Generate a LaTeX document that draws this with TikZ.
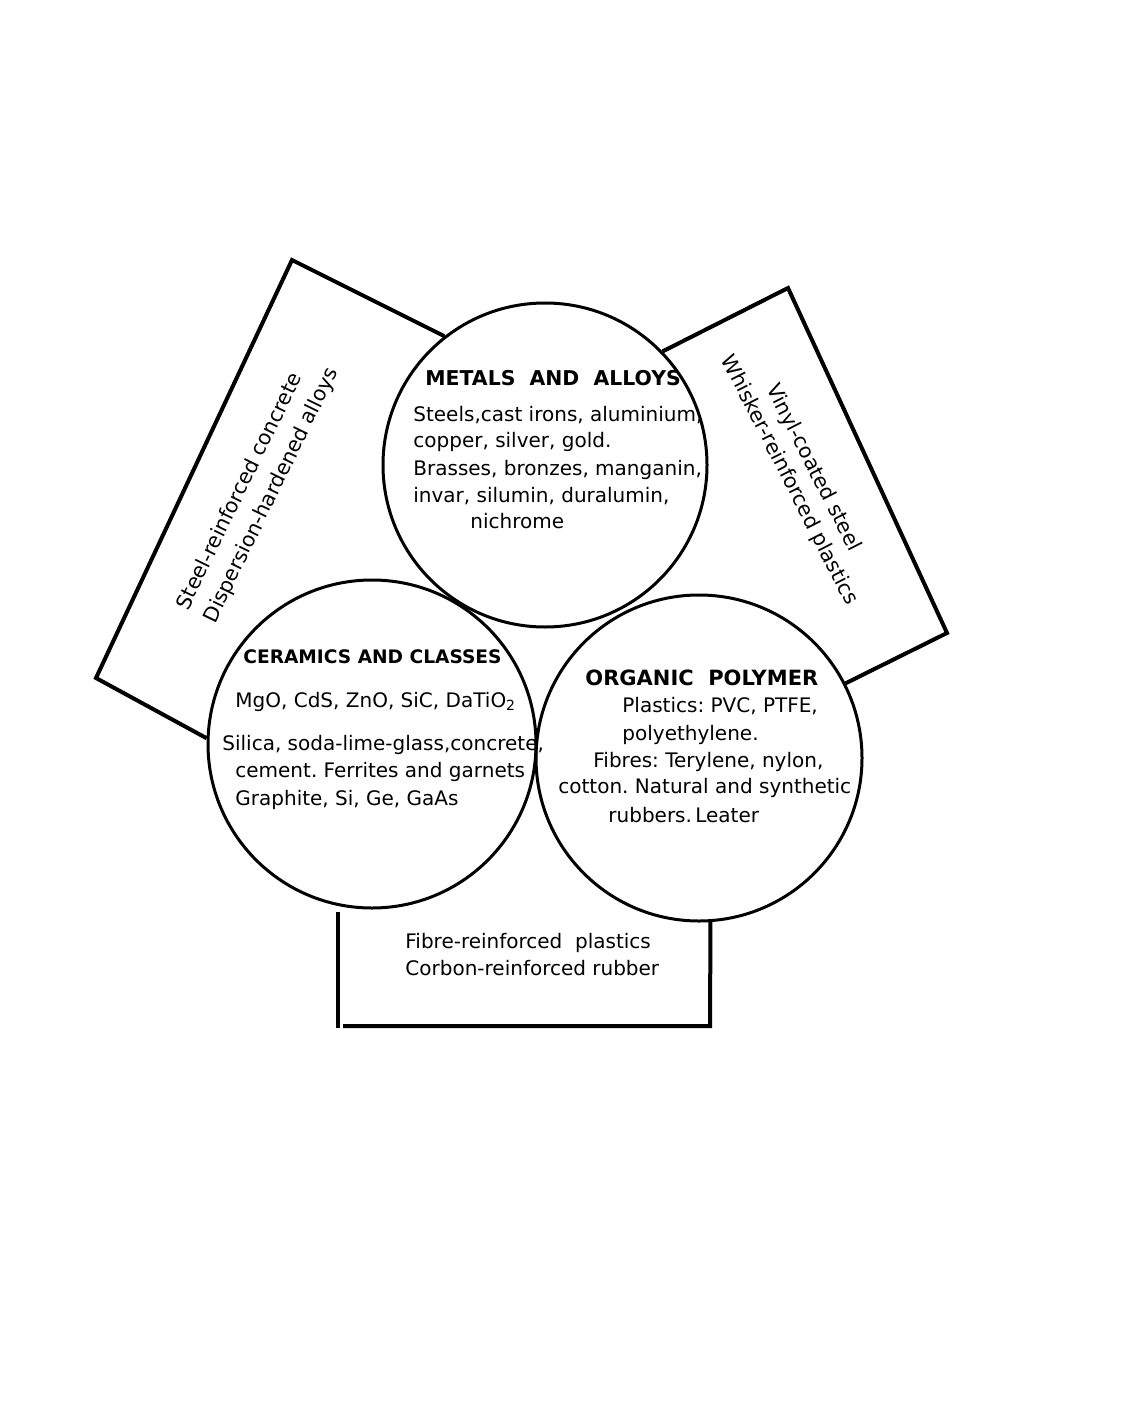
\documentclass[tikz,border=0pt]{standalone}
\usepackage{fontspec}
\setmainfont{DejaVu Sans}
\frenchspacing
\tikzset{
	ring/.style={circle,draw,line width=1.5pt,inner sep=0pt},
	frame/.style={line width=2pt},
	txt/.style={anchor=base west,inner sep=0pt,font=\fontsize{10}{13}\selectfont},
	head/.style={anchor=base west,inner sep=0pt,font=\fontsize{10.2}{13}\selectfont\bfseries}
}

\begin{document}
\begin{tikzpicture}[x=0.5pt,y=-0.5pt]
	\useasboundingbox (0,0) rectangle (1134,1417);
	
	\node[ring,minimum size=162pt] (metals) at (545,465) {};
	\node[ring,minimum size=164pt] (ceramics) at (372,744) {};
	\node[ring,minimum size=163pt] (polymer) at (699,758) {};
	
	\coordinate (lt) at (292,260);
	\coordinate (lb) at (96,678);
	\coordinate (rt) at (788,288);
	\coordinate (rb) at (947,633);
	\coordinate (bl) at (338,912);
	\coordinate (bll) at (338,1028);
	\coordinate (bb) at (343,1026);
	\coordinate (br) at (710,1026);
	
	\draw[frame] (metals.128) -- (lt) -- (lb) -- (ceramics.178);
	\draw[frame] (metals.44) -- (rt) -- (rb) -- (polymer.27);
	\draw[frame] (bl) -- (bll);
	\draw[frame] (bb) -- (br) -- (polymer.-86);
	
	% metals
	\node[head] (mh) at (425,385) {METALS~~AND~~ALLOYS};
	\node[txt] (m1) at (413,421) {Steels,cast irons, aluminium,};
	\node[txt] (m2) at (413,447) {copper, silver, gold.};
	\node[txt] (m3) at (413,475) {Brasses, bronzes, manganin,};
	\node[txt] (m4) at (413,502) {invar, silumin, duralumin,};
	\node[txt] (m5) at (470,528) {nichrome};
	
	% ceramics
	\node[head,font=\fontsize{9.3}{12}\selectfont\bfseries] (ch) at (243,663) {CERAMICS AND CLASSES};
	\node[txt] (c1) at (235,707) {MgO, CdS, ZnO, SiC, DaTiO\textsubscript{2}};
	\node[txt] (c2) at (222,750) {Silica, soda-lime-glass,concrete,};
	\node[txt] (c3) at (235,777) {cement. Ferrites and garnets};
	\node[txt] (c4) at (235,805) {Graphite, Si, Ge, GaAs};
	
	% polymer
	\node[head,font=\fontsize{10.5}{13}\selectfont\bfseries] (ph) at (585,685) {ORGANIC~~POLYMER};
	\node[txt] (p1) at (622,712) {Plastics: PVC, PTFE,};
	\node[txt] (p2) at (622,740) {polyethylene.};
	\node[txt] (p3) at (593,767) {Fibres: Terylene, nylon,};
	\node[txt] (p4) at (558,793) {cotton. Natural and synthetic};
	\node[txt] (p5) at (608,822) {rubbers.\,Leater};
	
	% composites
	\node[rotate=64,align=left,inner sep=0pt,font=\fontsize{10.3}{15}\selectfont] (left) at (258,489) {Steel-reinforced concrete\\Dispersion-hardened alloys};
	\node[rotate=-63,align=center,inner sep=0pt,font=\fontsize{10.3}{13.5}\selectfont] (right) at (801,474) {Vinyl-coated steel\\Whisker-reinforced plastics};
	\node[txt] (b1) at (405,948) {Fibre-reinforced~~plastics};
	\node[txt] (b2) at (405,975) {Corbon-reinforced rubber};
\end{tikzpicture}
\end{document}
